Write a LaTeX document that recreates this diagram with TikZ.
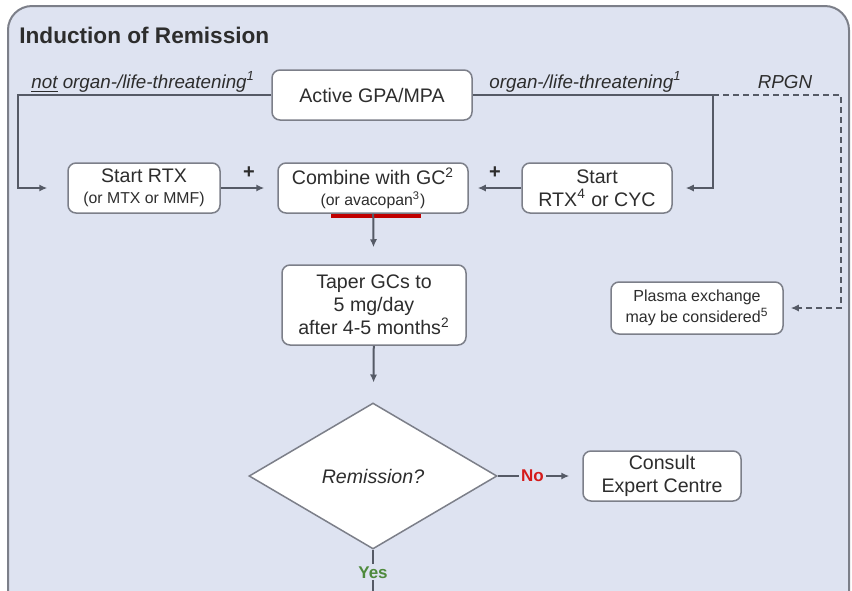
\documentclass[tikz,border=0pt]{standalone}
\usepackage{fontspec}
\setmainfont{Liberation Sans}
\usetikzlibrary{shapes.geometric,arrows.meta}

\definecolor{panel}{HTML}{DEE3F1}
\definecolor{frame}{HTML}{7C7F89}
\definecolor{ink}{HTML}{2D2D2D}
\definecolor{wire}{HTML}{555A66}
\definecolor{nored}{HTML}{D51A1A}
\definecolor{yesgreen}{HTML}{4E8A3C}
\definecolor{barred}{HTML}{C00000}

\tikzset{
  box/.style={rectangle, rounded corners=4pt, draw=frame, line width=0.75pt, fill=white,
    align=center, text=ink, font=\fontsize{9.8}{11.5}\selectfont, inner sep=1pt},
  decision/.style={diamond, draw=frame, line width=0.75pt, fill=white, text=ink,
    minimum width=124pt, minimum height=73pt, inner sep=0pt, aspect=1.7,
    font=\itshape\fontsize{9.8}{11.5}\selectfont},
  cond/.style={text=ink, inner sep=1pt, font=\itshape\fontsize{9.4}{11}\selectfont},
  wire/.style={draw=wire, line width=1pt},
  arr/.style={wire, -{Latex[length=4pt,width=3.6pt]}, shorten >=6.5pt},
}
\newcommand{\sm}{\fontsize{7.9}{9.5}\selectfont}

\begin{document}
\begin{tikzpicture}[x=0.5pt, y=-0.5pt]
			\clip (0,0) rectangle (852,590);
			% Panel
			\draw[frame, fill=panel, line width=1pt, rounded corners=12pt] (8,650) -- (8,6) -- (849,6) -- (849,650);
			\node[anchor=west, text=ink, inner sep=0pt, font=\bfseries\fontsize{11.3}{13}\selectfont] (title) at (19,35) {Induction of Remission};
			
			% Boxes
			\node[box, minimum width=100pt, minimum height=25pt] (act) at (372,95) {Active GPA/MPA};
			\node[box, minimum width=76pt, minimum height=25pt] (rtx) at (144,188) {Start RTX\\[-1pt]{\sm (or MTX or MMF)}};
			\node[box, minimum width=95pt, minimum height=25pt] (comb) at (373,188) {Combine with GC\textsuperscript{2}\\[-1pt]{\sm (or avacopan\textsuperscript{3})}};
			\node[box, minimum width=75pt, minimum height=25pt] (cyc) at (597,188) {Start\\RTX\textsuperscript{4} or CYC};
			\node[box, minimum width=92pt, minimum height=40pt] (taper) at (374,305) {Taper GCs to\\5 mg/day\\after 4-5 months\textsuperscript{2}};
			\node[box, minimum width=86pt, minimum height=26pt, font=\fontsize{8}{10.5}\selectfont] (pe) at (697,308) {Plasma exchange\\may be considered\textsuperscript{5}};
			\node[decision] (rem) at (373,476) {Remission?};
			\node[box, minimum width=79pt, minimum height=25pt] (cons) at (662,476) {Consult\\Expert Centre};
			
			% Red bar under avacopan
			\draw[barred, line width=2pt] ([xshift=-21pt,yshift=-1.2pt]comb.south) -- ++(45pt,0);
			
			% Condition labels
			\node[cond, anchor=west] (notlt) at (29,82) {\underline{not} organ-/life-threatening\textsuperscript{1}};
			\node[cond, anchor=west] (lt) at (487,82) {organ-/life-threatening\textsuperscript{1}};
			\node[cond] (rpgn) at (785,82) {RPGN};
			
			% Branch points
			\coordinate (lc) at (18,95);
			\coordinate (rc) at (713,95);
			\coordinate (dc) at (841,95);
			\coordinate (out) at (373,600);
			
			% Edges from the start box
			\draw[arr, shorten >=10pt] (act.west) -- (lc) |- (rtx.west);
			\draw[arr] (act.east) -- (rc) |- (cyc.east);
			\draw[arr, dashed, dash pattern=on 3pt off 2pt, shorten >=3.5pt] (rc) -- (dc) |- (pe.east);
			
			% Edges into the GC box
			\draw[arr] (rtx) -- node[above=1pt, text=ink, font=\bfseries\fontsize{10}{12}\selectfont] (plusl) {+} (comb);
			\draw[arr, shorten >=4.5pt] (cyc) -- node[above=1pt, text=ink, font=\bfseries\fontsize{10}{12}\selectfont] (plusr) {+} (comb);
			
			% Main column
			\draw[arr, shorten >=8.5pt] (comb) -- (taper);
			\draw[arr, shorten >=10pt] (taper) -- (rem);
			\draw[arr] (rem.east) -- node[pos=0.41, fill=panel, inner sep=1pt, text=nored, font=\bfseries\fontsize{8.5}{10}\selectfont] (no) {No} (cons.west);
			\draw[wire] (rem.south) -- node[pos=0.45, fill=panel, inner sep=1pt, text=yesgreen, font=\bfseries\fontsize{8.5}{10}\selectfont] (yes) {Yes} (out);
		\end{tikzpicture}
\end{document}
